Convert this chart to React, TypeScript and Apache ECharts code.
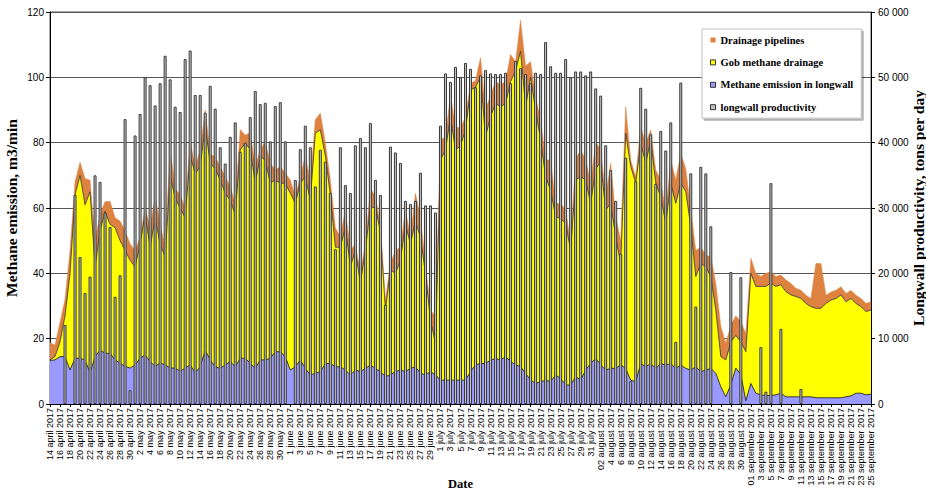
import React, { useEffect, useRef } from "react";
import * as echarts from "echarts";

// Date categories: 14 April 2017 .. 25 September 2017 (one per day)
const monthSpans: [string, number, number][] = [
  ["april", 14, 30],
  ["may", 1, 31],
  ["june", 1, 30],
  ["july", 1, 31],
  ["august", 1, 31],
  ["september", 1, 25],
];
const paddedLabels: Record<string, string> = {
  "2 august 2017": "02 august 2017",
  "1 september 2017": "01 september 2017",
};
const categories: string[] = [];
for (const [m, a, b] of monthSpans) {
  for (let d = a; d <= b; d++) {
    const s = `${d} ${m} 2017`;
    categories.push(paddedLabels[s] || s);
  }
}

// Methane emission in longwall, m3/min
const emissionLongwall: number[] = [
  13.3, 13.5, 14.5, 14.5, 10.4, 14, 14, 13.5, 9.5, 14.5,
  16.5, 15.5, 15.5, 13.5, 12.5, 11.5, 11, 12, 14, 15,
  13, 11.5, 12.5, 12, 11, 11, 10, 11, 12, 9.5,
  11.4, 16.5, 13.5, 11.4, 10.9, 12, 13, 11.4, 14, 14,
  12.5, 10.9, 13.5, 13.5, 14, 16, 16, 14.5, 10.4, 11.4,
  13.5, 10.9, 8.9, 9.4, 9.9, 12.4, 12.4, 11.4, 11.4, 10.4,
  8.9, 10.4, 9.9, 10.9, 11.9, 10.9, 9.9, 8.4, 8.9, 9.9,
  10.4, 9.9, 10.9, 11.4, 9.4, 8.9, 9.9, 8.9, 7.3, 7.3,
  7.3, 7.3, 7.3, 7.3, 9.9, 12, 12.4, 12.4, 13.5, 13.9,
  13.5, 14.5, 13, 12, 11.4, 9.4, 7.3, 6.3, 6.8, 7.3,
  6.8, 8.9, 7.8, 5.8, 5.8, 8.4, 7.3, 10.4, 12.4, 14,
  12, 10.4, 10.9, 10.9, 12, 10.9, 7.3, 6.8, 12.4, 11.4,
  12.4, 10.9, 12.4, 11.9, 12.4, 10.9, 11.9, 10.9, 10.4, 11.4,
  9.9, 10.4, 10.9, 9.4, 5.3, 2.2, 6, 11, 9, 1,
  6.3, 3.3, 2.8, 2.6, 2.6, 2.8, 3.3, 2.2, 2.2, 2.2,
  2.2, 2.2, 2.2, 1.9, 1.9, 1.9, 1.9, 1.9, 1.9, 2.2,
  2.5, 3.3, 3.3, 2.8, 3,
];

// Gob methane drainage, m3/min
const gobDrainage: number[] = [
  0.2, 1, 4.5, 12.5, 29.6, 50, 56, 47.5, 55.5, 27.5,
  36.5, 43.5, 39.5, 40.5, 37.5, 35.5, 33, 30, 35, 43,
  35, 45.5, 36.5, 33, 59, 52, 50, 46, 64, 61,
  61.3, 68.5, 60.2, 60.6, 57.7, 52.5, 49.4, 46.5, 63.8, 65.8,
  65.5, 56.7, 62.2, 61.2, 53.6, 52.6, 51.6, 53.1, 54.1, 50,
  54.1, 58.7, 53.5, 73.5, 74, 63.6, 51.6, 36.6, 36.6, 43.6,
  33.1, 36.6, 27.1, 36.1, 48.5, 49.1, 43.1, 20.4, 32.1, 30.1,
  33.6, 45.1, 38.1, 44.6, 41.6, 31.1, 15.8, 9.7, 67.4, 70.5,
  80.7, 70.5, 71.7, 76.7, 86.1, 85, 87.6, 69.4, 74.5, 78.1,
  77.5, 77.5, 85.7, 90, 96.6, 81.6, 92.7, 83.7, 74, 62.3,
  58.7, 48.4, 49, 49.5, 41.2, 60.2, 62.3, 58.2, 49, 58,
  62, 49, 50.5, 40.3, 31, 72, 65.4, 60.8, 67.4, 62.3,
  68.4, 56.7, 51.1, 43.4, 55.2, 50.5, 55.7, 54.1, 43.9, 27.6,
  33.1, 31.6, 28.1, 19.4, 9.2, 11.3, 13, 10, 10, 15,
  33.7, 32.7, 33.2, 33.4, 34.4, 33.2, 33.2, 32.2, 31.2, 30.7,
  30.1, 28.6, 27.6, 27.4, 27.4, 28.9, 29.9, 30.4, 31.5, 29.1,
  29.8, 27.5, 26.5, 25.5, 25.8,
];

// Drainage pipelines, m3/min
const drainagePipelines: number[] = [
  5.3, 3.5, 6, 5, 7, 4, 4, 8, 3.5, 8,
  5, 3, 7, 3, 6, 6, 5, 5, 2, 2,
  6, 6.5, 6, 3, 8, 3, 4, 3, 4.5, 2,
  5.1, 5, 3, 3.5, 4.1, 5.1, 4.1, 3.5, 6.2, 2.5,
  5, 5.1, 2.1, 5.6, 6.1, 3, 5.1, 3, 4.1, 2.1,
  2, 6.4, 5.6, 4.1, 5.1, 4, 4.6, 6, 3, 5.4,
  5, 2, 3, 2, 5.6, 3.5, 2, 3, 2, 7,
  4, 4.4, 2, 8.5, 6, 3, 3.1, 8.1, 6.1, 4,
  6.6, 7.1, 5.4, 4, 2, 2, 6, 8.2, 6.6, 6.7,
  6.8, 6.7, 8.3, 2.8, 9.5, 12.5, 4.8, 4, 6.2, 5.1,
  9.2, 4.1, 4.6, 4.1, 2, 6.4, 8.2, 6.1, 6.2, 8,
  4, 4.1, 12.3, 6.1, 7, 8.1, 2, 2, 5.1, 6.1,
  3.1, 4, 5.1, 3.1, 7.1, 7.2, 9.1, 7, 5.1, 8,
  5, 3.6, 6, 8.1, 9.2, 5.1, 5, 6, 6.2, 5.6,
  4.6, 4, 3, 4, 3.5, 3, 3, 3.6, 3.5, 2.5,
  2.5, 2.5, 2.5, 13.7, 13.7, 2.5, 2.5, 2.5, 2.5, 2.5,
  2.5, 2.5, 2.5, 2.5, 2.5,
];

// Longwall productivity, tons per day
const productivity: number[] = [
  0, 0, 0, 12100, 0, 32000, 22500, 17000, 19500, 35000,
  34000, 29300, 27100, 16400, 19700, 43600, 2100, 41100, 44400, 50000,
  48800, 45700, 49100, 53300, 49700, 45500, 44700, 52800, 54100, 47300,
  47300, 44600, 48700, 45200, 39300, 36800, 40900, 43100, 38600, 40000,
  43900, 47900, 45900, 46100, 40200, 45600, 46200, 40200, 0, 34300,
  39000, 42600, 39300, 33300, 38900, 37100, 32300, 23700, 39300, 33500,
  32300, 39600, 40700, 39300, 43000, 34300, 32000, 15200, 39400, 38500,
  36900, 31100, 30600, 31100, 35400, 30400, 30400, 29300, 42600, 50600,
  49300, 51600, 50000, 52200, 51300, 48500, 50300, 51100, 50600, 50500,
  50500, 50700, 49100, 52500, 51400, 50500, 49100, 50700, 50500, 55400,
  51700, 50700, 50700, 52800, 50000, 50900, 50900, 50300, 50900, 48300,
  47200, 39600, 35800, 31100, 23000, 37700, 3500, 34100, 48400, 45200,
  41300, 33700, 41800, 38800, 43100, 9500, 49200, 0, 35300, 14900,
  36300, 35300, 27200, 0, 0, 0, 20200, 0, 19400, 0,
  0, 0, 8700, 1900, 33800, 0, 11500, 0, 0, 0,
  2300, 0, 0, 0, 0, 0, 0, 0, 0, 0,
  0, 0, 0, 0, 0,
];

const SERIF = "'Liberation Serif', 'Times New Roman', serif";
const SANS = "'Liberation Sans', Arial, sans-serif";

const C_ORANGE = "#DD8240";
const C_YELLOW = "#FFFF00";
const C_BLUE = "#9999FF";
const C_BAR = "#C4C4C4";
const C_BAR_BORDER = "#3a3a3a";

export default function App() {
  const ref = useRef<HTMLDivElement>(null);

  useEffect(() => {
    if (!ref.current) return;
    const chart = echarts.init(ref.current, undefined, { renderer: "svg" });
    const titleStyle = {
      fontFamily: SERIF,
      fontWeight: "bold" as const,
      fontSize: 12.5,
      color: "#000",
    };
    const sideTitleStyle = { ...titleStyle, fontSize: 15.5 };
    const option: any = {
      animation: false,
      backgroundColor: "#fff",
      grid: {
        left: 50,
        right: 55,
        top: 12,
        bottom: 88,
        containLabel: false,
        outerBoundsMode: "none",
        show: true,
        borderColor: "#555",
        borderWidth: 1,
        backgroundColor: "transparent",
      },
      legend: {
        orient: "vertical",
        left: 702,
        top: 29,
        padding: [5, 8, 5, 8],
        itemGap: 10.4,
        itemWidth: 5,
        itemHeight: 5,
        icon: "rect",
        backgroundColor: "#fff",
        borderColor: "#bdbdbd",
        borderWidth: 1,
        shadowColor: "rgba(0,0,0,0.3)",
        shadowBlur: 1,
        shadowOffsetX: 2,
        shadowOffsetY: 2,
        textStyle: {
          fontFamily: SERIF,
          fontWeight: "bold",
          fontSize: 10.5,
          lineHeight: 12,
          color: "#000",
        },
        data: [
          { name: "Drainage pipelines", icon: "rect", itemStyle: { color: C_ORANGE, borderWidth: 0 } },
          { name: "Gob methane drainage", icon: "rect", itemStyle: { color: C_YELLOW, borderColor: "#333", borderWidth: 1 } },
          { name: "Methane emission in longwall", icon: "rect", itemStyle: { color: C_BLUE, borderColor: "#333", borderWidth: 1 } },
          { name: "longwall productivity", icon: "rect", itemStyle: { color: C_BAR, borderColor: "#333", borderWidth: 1 } },
        ],
      },
      xAxis: {
        type: "category",
        data: categories,
        boundaryGap: false,
        name: "Date",
        nameLocation: "middle",
        nameGap: 73,
        nameMoveOverlap: false,
        nameTextStyle: titleStyle,
        axisLine: { lineStyle: { color: "#000", width: 1 } },
        axisTick: { interval: 1, length: 3, lineStyle: { color: "#000" } },
        axisLabel: {
          interval: 1,
          rotate: 90,
          fontSize: 9,
          fontFamily: SANS,
          color: "#000",
          margin: 4,
        },
        splitLine: { show: false },
      },
      yAxis: [
        {
          type: "value",
          min: 0,
          max: 120,
          interval: 20,
          name: "Methane emission, m3/min",
          nameLocation: "middle",
          nameRotate: 90,
          nameGap: 31,
          nameMoveOverlap: false,
          nameTextStyle: sideTitleStyle,
          axisLine: { show: true, lineStyle: { color: "#000" } },
          axisTick: { show: true, length: 4, lineStyle: { color: "#000" } },
          axisLabel: { fontSize: 10, fontFamily: SANS, color: "#000", margin: 6 },
          splitLine: { show: true, lineStyle: { color: "#555", width: 1 } },
        },
        {
          type: "value",
          min: 0,
          max: 60000,
          interval: 10000,
          position: "right",
          name: "Longwall productivity, tons per day",
          nameLocation: "middle",
          nameRotate: 90,
          nameGap: 39,
          nameMoveOverlap: false,
          nameTextStyle: sideTitleStyle,
          axisLine: { show: true, lineStyle: { color: "#000" } },
          axisTick: { show: true, length: 4, lineStyle: { color: "#000" } },
          axisLabel: {
            fontSize: 10,
            fontFamily: SANS,
            color: "#000",
            margin: 7,
            formatter: (v: number) => (v === 0 ? "0" : `${v / 1000} 000`),
          },
          splitLine: { show: false },
        },
      ],
      series: [
        {
          name: "Methane emission in longwall",
          type: "line",
          stack: "methane",
          data: emissionLongwall,
          symbol: "none",
          itemStyle: { color: C_BLUE },
          lineStyle: { color: "#222", width: 0.9 },
          areaStyle: { color: C_BLUE, opacity: 1 },
          z: 2,
        },
        {
          name: "Gob methane drainage",
          type: "line",
          stack: "methane",
          data: gobDrainage,
          symbol: "none",
          itemStyle: { color: C_YELLOW },
          lineStyle: { color: "#333", width: 0.8 },
          areaStyle: { color: C_YELLOW, opacity: 1 },
          z: 2,
        },
        {
          name: "Drainage pipelines",
          type: "line",
          stack: "methane",
          data: drainagePipelines,
          symbol: "none",
          itemStyle: { color: C_ORANGE },
          lineStyle: { color: C_ORANGE, width: 0.5 },
          areaStyle: { color: C_ORANGE, opacity: 1 },
          z: 2,
        },
        {
          name: "longwall productivity",
          type: "bar",
          yAxisIndex: 1,
          data: productivity.map((v) => (v === 0 ? null : v)),
          barWidth: 3,
          itemStyle: { color: C_BAR, borderColor: C_BAR_BORDER, borderWidth: 1 },
          z: 4,
        },
      ],
    };
    chart.setOption(option);
    return () => chart.dispose();
  }, []);

  return (
    <div
      ref={ref}
      style={{ position: "fixed", left: 0, top: 0, width: 926, height: 492, background: "#fff" }}
    />
  );
}
